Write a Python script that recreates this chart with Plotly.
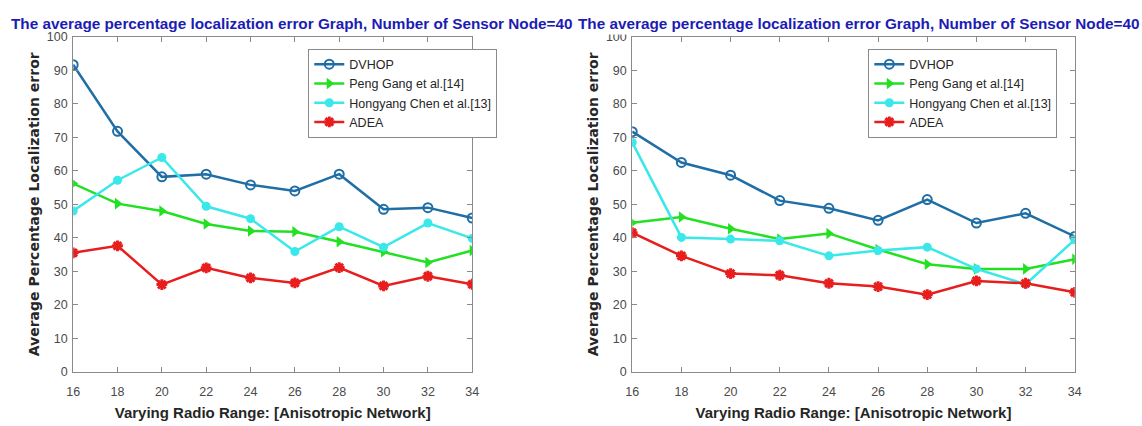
import plotly.graph_objects as go

radio_range = [16, 18, 20, 22, 24, 26, 28, 30, 32, 34]

# Left panel
left_dvhop = [91.7, 71.8, 58.2, 59.0, 55.8, 54.0, 59.0, 48.5, 49.0, 45.9]
left_peng = [56.2, 50.2, 48.0, 44.1, 42.0, 41.8, 38.8, 35.8, 32.6, 36.2]
left_hong = [48.0, 57.2, 64.0, 49.4, 45.7, 35.9, 43.3, 37.2, 44.4, 39.8]
left_adea = [35.5, 37.6, 26.0, 31.0, 28.0, 26.5, 31.1, 25.6, 28.5, 26.1]

# Right panel
right_dvhop = [71.7, 62.5, 58.7, 51.1, 48.8, 45.2, 51.4, 44.4, 47.3, 40.4]
right_peng = [44.5, 46.2, 42.7, 39.6, 41.3, 36.5, 32.1, 30.7, 30.7, 33.6]
right_hong = [68.5, 40.1, 39.6, 39.1, 34.6, 36.2, 37.2, 30.7, 26.1, 39.4]
right_adea = [41.5, 34.6, 29.3, 28.8, 26.4, 25.4, 23.0, 27.1, 26.4, 23.7]

names = ["DVHOP", "Peng Gang et al.[14]", "Hongyang Chen et al.[13]", "ADEA"]
title_text = "The average percentage localization error Graph, Number of Sensor Node=40"
x_title = "Varying Radio Range: [Anisotropic Network]"
y_title = "Average Percentage Localization error"

styles = [
    dict(color="#1f6ea6", symbol="circle-open", size=9, lw=2),
    dict(color="#22e022", symbol="triangle-right", size=10, lw=0),
    dict(color="#3ae8ea", symbol="circle", size=9, lw=0),
    dict(color="#e81e1e", symbol="asterisk-open", size=9, lw=3),
]

W, H = 1142, 426
fig = go.Figure()

panels = [
    (dict(xaxis="x", yaxis="y", legend="legend"), [left_dvhop, left_peng, left_hong, left_adea]),
    (dict(xaxis="x2", yaxis="y2", legend="legend2"), [right_dvhop, right_peng, right_hong, right_adea]),
]
for refs, series in panels:
    for name, vals, st in zip(names, series, styles):
        fig.add_trace(go.Scatter(
            x=radio_range, y=vals, name=name, mode="lines+markers",
            line=dict(color=st["color"], width=2.5),
            marker=dict(symbol=st["symbol"], size=st["size"], color=st["color"],
                        line=dict(color=st["color"], width=st["lw"])),
            **refs,
        ))

def px_x(p):
    return p / W

def px_y(p):
    return (H - p) / H

axis_common = dict(
    showgrid=False, zeroline=False, showline=True, mirror="ticks",
    linecolor="#8a8a8a", linewidth=1, ticks="inside", ticklen=5,
    tickcolor="#8a8a8a", tickfont=dict(family="Liberation Sans, Arial", size=12.5, color="#4a4a4a"),
)
xt_font = dict(family="Liberation Sans, Arial", size=15, color="#262626", weight="bold")
yt_font = dict(family="DejaVu Sans", size=14, color="#262626", weight="bold")

xdoms = [(px_x(67), px_x(471)), (px_x(633), px_x(1081))]
ydom = (px_y(377), px_y(31))

layout = dict(
    width=W, height=H, margin=dict(l=0, r=0, t=0, b=0),
    plot_bgcolor="white", paper_bgcolor="white", showlegend=True,
)
for i, (xd, sfx) in enumerate(zip(xdoms, ["", "2"])):
    layout["xaxis" + sfx] = dict(
        domain=list(xd), range=[16, 34], tickvals=radio_range, anchor="y" + sfx,
        ticklabelstandoff=8,
        title=dict(text=x_title, font=xt_font, standoff=9),
        **axis_common,
    )
    layout["yaxis" + sfx] = dict(
        domain=list(ydom), range=[0, 100], tick0=0, dtick=10, anchor="x" + sfx,
        ticklabelstandoff=2,
        title=dict(text=y_title, font=yt_font, standoff=3),
        **axis_common,
    )

legend_common = dict(
    xanchor="left", yanchor="top", bgcolor="white", bordercolor="#8a8a8a",
    borderwidth=1, font=dict(family="Liberation Sans, Arial", size=12.5, color="#262626"),
    tracegroupgap=0, itemsizing="trace",
)
layout["legend"] = dict(x=px_x(305), y=px_y(43), **legend_common)
layout["legend2"] = dict(x=px_x(872), y=px_y(43), **legend_common)

tfont = dict(family="Liberation Sans, Arial", size=15.3, color="#1c1cb4", weight="bold")
layout["annotations"] = [
    dict(text=title_text, xref="paper", yref="paper",
         x=px_x(2), y=px_y(17), xanchor="left", yanchor="middle", showarrow=False,
         font=tfont),
    dict(text=title_text, xref="paper", yref="paper",
         x=px_x(575), y=px_y(17), xanchor="left", yanchor="middle", showarrow=False,
         bgcolor="white", borderpad=2, font=tfont),
]

fig.update_layout(**layout)
fig.write_html("out.html")
